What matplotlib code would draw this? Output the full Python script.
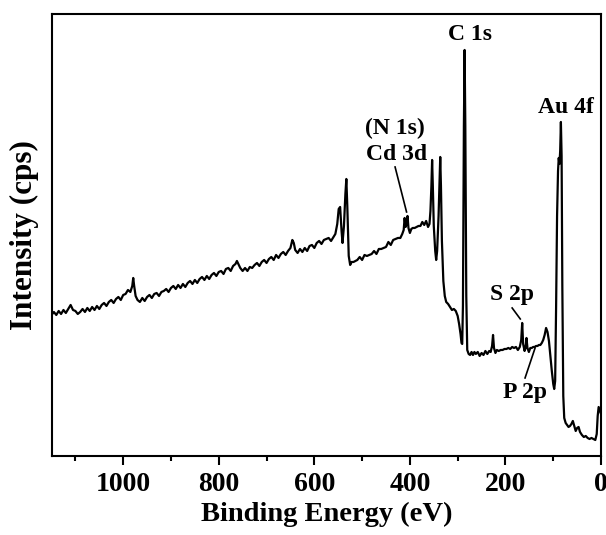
import matplotlib
matplotlib.use('Agg')
import matplotlib.pyplot as plt
from matplotlib.ticker import MultipleLocator
import numpy as np

# XPS survey: binding energy (eV) and intensity (arb. units)
be_high = [1150, 1145, 1140, 1135, 1130, 1125, 1120, 1115, 1110, 1105, 1100, 1095,
           1090, 1085, 1080, 1075, 1070, 1065, 1060, 1055, 1050, 1045, 1040, 1035,
           1030, 1025, 1020, 1015, 1010, 1005, 1000, 995, 990, 985, 981, 979, 977,
           974, 970, 965, 960, 955, 950, 945, 940, 935, 930, 925, 920, 915, 910,
           905, 900, 895, 890, 885, 880, 875, 870, 865, 860, 855, 850, 845, 840,
           835, 830, 825, 820, 815, 810, 805, 800, 795, 790, 785, 780, 775, 770,
           765, 762, 758, 755, 750, 745, 740, 735, 730, 725, 720, 715, 710, 705,
           700, 695, 690, 685, 680, 675, 670, 665, 660, 655, 650, 646, 643, 640,
           635, 630, 625, 620, 615, 610, 605, 600, 595, 590, 585, 580, 575, 570,
           565, 560]
cps_high = [141, 144, 141, 145, 142, 146, 143, 147, 151, 146, 145, 142,
            144, 147, 144, 148, 145, 149, 146, 150, 147, 151, 153, 150,
            154, 156, 153, 157, 159, 156, 161, 162, 166, 164, 170, 178, 170,
            160, 156, 154, 158, 155, 159, 161, 158, 162, 163, 160, 164, 165, 167,
            164, 168, 170, 167, 171, 168, 172, 169, 173, 175, 172, 176, 173, 177,
            179, 176, 180, 177, 181, 183, 180, 184, 185, 182, 187, 188, 185, 190,
            192, 195, 191, 188, 185, 188, 185, 189, 188, 191, 193, 190, 194, 196,
            193, 197, 199, 196, 201, 198, 202, 204, 201, 205, 208, 216, 213, 206,
            203, 207, 204, 208, 205, 210, 211, 208, 213, 215, 212, 216, 217, 218,
            215, 219]

be_mid = [556, 552, 549, 546, 543, 541, 538, 535, 533, 531, 528, 525, 522, 518,
          514, 510, 505, 500, 495, 490, 485, 480, 475, 470, 465, 460, 455, 450,
          445, 440, 435, 430, 425, 420, 416, 413, 411, 409, 407, 405, 403, 400,
          397, 394, 390, 386, 382, 378, 374, 370, 366, 362, 359, 357, 355, 353.5,
          352, 350, 347, 345, 343, 340, 338, 336.5, 335, 333, 330, 327, 324, 320,
          316, 312, 308, 304, 300, 297, 294, 292, 290.5, 289, 287, 285.5, 284, 282]
cps_mid = [222, 232, 247, 249, 225, 213, 230, 262, 277, 250, 200, 191, 194, 194,
           195, 196, 199, 196, 201, 200, 201, 202, 205, 202, 207, 207, 208, 209,
           214, 211, 216, 217, 218, 218, 222, 226, 238, 229, 232, 240, 228, 223,
           227, 228, 228, 229, 230, 230, 234, 231, 235, 229, 232, 245, 270, 296,
           270, 230, 205, 196, 205, 240, 275, 299, 270, 215, 175, 160, 154, 152,
           149, 146, 147, 145, 140, 132, 122, 113, 112, 150, 330, 406, 330, 160]

be_low = [280, 277, 274, 271, 268, 265, 262, 258, 254, 250, 246, 242, 238, 234,
          231, 228, 226, 224, 221, 218, 214, 210, 206, 202, 198, 194, 190, 186,
          182, 178, 174, 170, 167, 165, 163, 160, 158, 156, 154, 151, 148, 145,
          142, 139, 136, 133, 130, 127, 124, 121, 118, 115, 112, 109, 106, 103,
          100, 98, 96, 94, 92, 90, 88.5, 87, 85.5, 84, 82.5, 81, 79, 77, 74, 71,
          68, 65, 62, 59, 56, 53, 50, 47, 44, 40, 36, 32, 28, 24, 20, 16, 12, 9,
          7, 5, 3, 1.5, 0]
cps_low = [106, 102, 101, 104, 101, 104, 102, 104, 100, 103, 101, 105, 102, 105,
           104, 110, 121, 108, 103, 106, 105, 106, 106, 107, 107, 108, 107, 109,
           108, 109, 106, 109, 116, 133, 112, 105, 108, 118, 108, 104, 108, 108,
           109, 109, 110, 110, 111, 111, 113, 116, 121, 128, 124, 115, 100, 85,
           72, 67, 75, 150, 240, 285, 298, 292, 305, 334, 300, 170, 60, 38, 33, 31,
           29, 30, 32, 35, 30, 25, 28, 29, 24, 21, 19, 20, 18, 17, 18, 17, 16, 22,
           40, 49, 46, 44, 42]

be = np.array(be_high + be_mid + be_low)
cps = np.array(cps_high + cps_mid + cps_low)

plt.rcParams['font.family'] = ['Liberation Serif', 'DejaVu Serif']
plt.rcParams['font.weight'] = 'bold'
plt.rcParams['axes.labelweight'] = 'bold'

fig = plt.figure(figsize=(6.06, 5.35), dpi=100)
ax = fig.add_axes([0.085, 0.1477, 0.9068, 0.8262])

ax.plot(be, cps, color='k', lw=1.6)

ax.set_xlim(1150, 0)
ax.set_ylim(0, 442)
ax.set_yticks([])
ax.xaxis.set_major_locator(MultipleLocator(200))
ax.xaxis.set_minor_locator(MultipleLocator(100))
ax.tick_params(axis='x', which='major', direction='out', length=6.5, width=1.5,
               labelsize=20, pad=5)
ax.tick_params(axis='x', which='minor', direction='out', length=3.5, width=1.5)
for s in ax.spines.values():
    s.set_linewidth(1.5)

ax.set_xlabel('Binding Energy (eV)', fontsize=20.5, fontweight='bold', va='top')
ax.xaxis.set_label_coords(0.5, -0.104)
ax.set_ylabel('Intensity (cps)', fontsize=22.5, fontweight='bold')
ax.yaxis.set_label_coords(-0.023, 0.50)

# peak labels
lab = dict(ha='center', va='center', fontsize=17, fontweight='bold')
ax.text(275, 421, 'C 1s', **lab)
ax.text(74, 348, 'Au 4f', **lab)
ax.text(431, 328, '(N 1s)', **lab)
ax.text(427, 301, 'Cd 3d', **lab)
ax.text(186, 161, 'S 2p', **lab)
ax.text(159, 63, 'P 2p', **lab)

# leader lines
ax.plot([431, 407], [289, 244], color='k', lw=1.2)
ax.plot([186, 169], [148, 137], color='k', lw=1.2)
ax.plot([159, 138], [78, 108], color='k', lw=1.2)

fig.savefig('out.png', dpi=100)
